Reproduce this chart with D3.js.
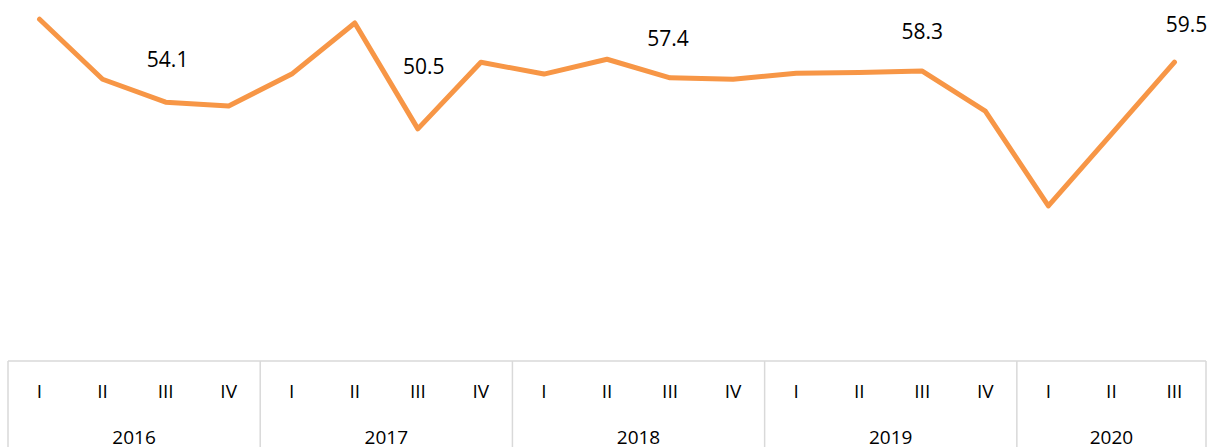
<!DOCTYPE html>
<html><head><meta charset="utf-8">
<script src="https://cdn.jsdelivr.net/npm/d3@7/dist/d3.min.js"></script>
<style>html,body{margin:0;padding:0;background:#fff;overflow:hidden}</style>
</head><body><svg id="c" width="1211" height="447"></svg>
<script>
const years = ["2016","2017","2018","2019","2020"];
const quarters = ["I","II","III","IV","I","II","III","IV","I","II","III","IV","I","II","III","IV","I","II","III"];
const quarterYear = ["2016","2016","2016","2016","2017","2017","2017","2017","2018","2018","2018","2018","2019","2019","2019","2019","2020","2020","2020"];
const values = [65.3,57.2,54.1,53.6,57.9,64.8,50.5,59.5,57.9,59.9,57.4,57.2,58.0,58.1,58.3,52.9,40.1,49.8,59.5];
const labelledIdx = [2,6,10,14,18];
const labelNudges = [[2,-35],[6,-55],[-2,-32],[0,-32],[12,-30]];

const svg = d3.select("#c");
const font = "'Open Sans', sans-serif";
const idx = d3.range(values.length);
const x = d3.scaleBand().domain(idx).range([8, 1206]).paddingInner(0).paddingOuter(0);
const y = d3.scaleLinear().domain([19.3, 67.9]).range([360, 0]);
const cx = i => x(i) + x.bandwidth()/2;

// category axis box
const axisTop = 361, axisBottom = 447;
const g = svg.append("g");
const gridColor = "#d9d9d9";
g.append("line").attr("x1", 8).attr("x2", 1206).attr("y1", axisTop).attr("y2", axisTop)
  .attr("stroke", gridColor).attr("stroke-width", 1.5);
// year boundaries
const yearStarts = years.map(yr => quarterYear.indexOf(yr));
const bounds = yearStarts.map(i => x(i)).concat([x(values.length-1) + x.bandwidth()]);
g.selectAll("line.sep").data(bounds).enter().append("line").attr("class","sep")
  .attr("x1", d => d).attr("x2", d => d).attr("y1", axisTop).attr("y2", axisBottom)
  .attr("stroke", gridColor).attr("stroke-width", 1.5);
// quarter labels
g.selectAll("text.q").data(idx).enter().append("text").attr("class","q")
  .attr("x", i => cx(i)).attr("y", 398).attr("text-anchor","middle")
  .attr("font-family", font).attr("font-size", 19).attr("fill","#000")
  .text(i => quarters[i]);
// year labels
g.selectAll("text.yr").data(years).enter().append("text").attr("class","yr")
  .attr("x", (yr, k) => (bounds[k] + bounds[k+1]) / 2).attr("y", 444).attr("text-anchor","middle")
  .attr("font-family", font).attr("font-size", 19).attr("fill","#000")
  .text(yr => yr);

// line
const line = d3.line().x(i => cx(i)).y(i => y(values[i]));
svg.append("path").datum(idx).attr("d", line)
  .attr("fill","none").attr("stroke","#F79646").attr("stroke-width",5)
  .attr("stroke-linejoin","round").attr("stroke-linecap","round");

// data labels
svg.selectAll("text.lbl").data(labelledIdx).enter().append("text").attr("class","lbl")
  .attr("x", (i,k) => cx(i) + labelNudges[k][0])
  .attr("y", (i,k) => y(values[i]) + labelNudges[k][1])
  .attr("text-anchor","middle").attr("font-family", font).attr("font-size", 21).attr("fill","#000")
  .text(i => values[i].toFixed(1));
</script></body></html>
